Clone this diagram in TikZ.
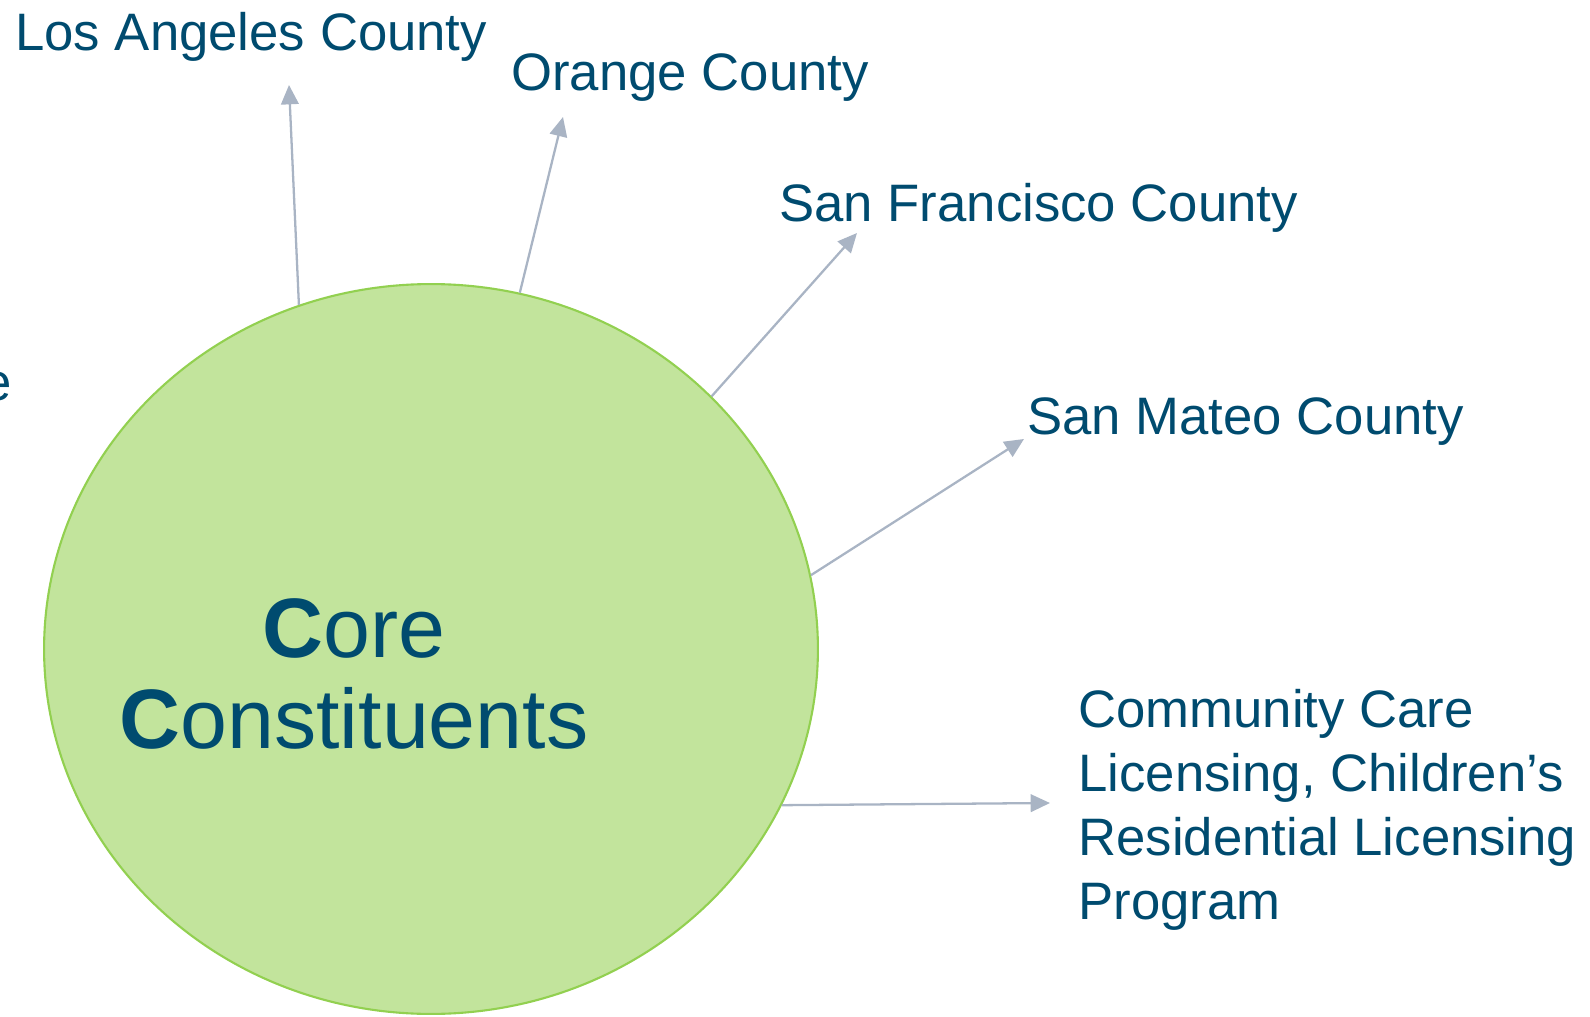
\documentclass[tikz,border=0pt]{standalone}
\usepackage{fontspec}
\setmainfont{Liberation Sans}
\usetikzlibrary{arrows.meta,shapes.geometric}
\definecolor{labelblue}{HTML}{004B6F}
\definecolor{corefill}{HTML}{C2E49C}
\definecolor{coreline}{HTML}{92D050}
\definecolor{linkgray}{HTML}{A9B4C4}
\begin{document}
\begin{tikzpicture}[x=0.02cm,y=-0.02cm,
  county/.style={anchor=base west,inner sep=0,text=labelblue,
    font=\fontsize{30}{36.3}\selectfont},
  link/.style={draw=linkgray,line width=1.3pt,-{Triangle[length=11pt,width=10pt]}}]
  \useasboundingbox (0,0) rectangle (1590,1017);
  \node[ellipse,draw=coreline,line width=1.2pt,fill=corefill,
    minimum width=15.48cm,minimum height=14.6cm,inner sep=0] (core) at (431,649) {};
  \node[align=center,anchor=base,inner sep=0,text=labelblue,
    font=\fontsize{48}{51.7}\selectfont] (title) at (354,748)
    {\textbf{C}ore\\\textbf{C}onstituents};
  \node[county,anchor=base east] (cut) at (12,400) {e};
  \node[county] (la) at (15,51) {Los Angeles County};
  \node[county] (orange) at (511,91) {Orange County};
  \node[county] (sf) at (779,221) {San Francisco County};
  \node[county] (sm) at (1027,434) {San Mateo County};
  \node[county,align=left] (ccl) at (1078,919)
    {Community Care\\Licensing, Children’s\\Residential Licensing\\Program};
  \coordinate (laend) at (289,85);
  \coordinate (orangeend) at (563,117);
  \coordinate (sfend) at (857,233);
  \coordinate (smend) at (1024,439);
  \coordinate (cclend) at (1050,803);
  \draw[link] (core.111.5) -- (laend);
  \draw[link] (core.76.5) -- (orangeend);
  \draw[link] (core.42.5) -- (sfend);
  \draw[link] (core.11) -- (smend);
  \draw[link] (core.-24.4) -- (cclend);
\end{tikzpicture}
\end{document}
